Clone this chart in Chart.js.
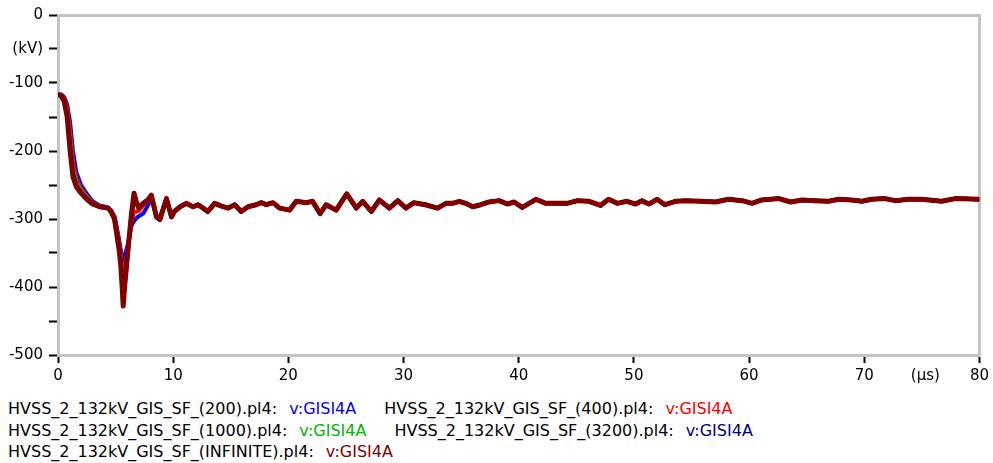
<!DOCTYPE html>
<html><head><meta charset="utf-8">
<script src="https://cdn.jsdelivr.net/npm/chart.js@4.4.0/dist/chart.umd.min.js"></script>
<style>
body{margin:0;background:#fff;width:993px;height:463px;overflow:hidden;position:relative;font-family:"DejaVu Sans",sans-serif;}
#wrap{position:absolute;left:0;top:0;width:993px;height:390px;}
#legend{position:absolute;left:8px;top:398px;width:985px;display:flex;flex-wrap:wrap;column-gap:28px;font-size:16px;line-height:21.5px;color:#000;}
.unit{margin-left:12px}
</style></head><body>
<div id="wrap"><canvas id="c" width="993" height="390"></canvas></div>
<div id="legend"></div>
<script>
// ---- data (time in µs, voltage in kV) ----
const timeEarlyUs = [0, 0.3, 0.55, 0.8, 1.05, 1.3, 1.6, 2.0, 2.5, 3.0, 3.6, 4.35, 4.6, 4.9, 5.1, 5.3, 5.45, 5.57, 5.66, 5.78, 5.9, 6.1, 6.38, 6.6, 6.8, 7.0, 7.4, 7.8, 8.1, 8.55, 8.84, 9.42, 9.85, 10.1, 10.6];
const kv200Early      = [-117,-117,-121,-132,-158,-200,-232,-250,-263,-274,-280,-283,-287,-296,-312,-330,-345,-356,-360,-355,-348,-335,-310,-303,-299,-296,-292,-280,-270,-295,-299,-271,-296,-289,-282];
const kv400Early      = [-117,-118,-123,-137,-170,-214,-241,-255,-266,-276,-281,-284,-288,-297,-315,-334,-352,-370,-378,-372,-362,-338,-304,-290,-289,-288,-280,-273,-267,-296,-300,-270,-297,-289,-282];
const kv1000Early     = [-117,-118,-125,-142,-182,-226,-247,-258,-268,-277,-281,-284,-288,-298,-318,-338,-358,-380,-392,-385,-370,-340,-298,-272,-278,-284,-277,-272,-266,-297,-300,-270,-297,-289,-282];
const kv3200Early     = [-117,-119,-127,-147,-193,-234,-251,-261,-270,-278,-282,-284,-289,-299,-320,-342,-364,-394,-420,-400,-378,-342,-294,-264,-276,-283,-277,-272,-265,-297,-301,-270,-297,-289,-282];
const kvInfiniteEarly = [-117,-119,-128,-150,-199,-238,-253,-262,-271,-278,-282,-284,-289,-300,-322,-345,-368,-400,-428,-400,-378,-341,-292,-262,-275,-283,-277,-272,-265,-297,-301,-270,-297,-289,-282];

// common tail, all five runs coincide after ~11 µs
const timeTailUs = [11.15, 11.73, 12.16, 12.6, 13.0, 13.6, 14.2, 14.76, 15.34, 15.9, 16.5, 17.2, 17.65, 18.08, 18.66, 19.24, 20.1, 20.68, 21.55, 22.1, 22.76, 23.28, 24.15, 25.07, 25.9, 26.46, 27.2, 27.9, 28.77, 29.5, 30.2, 30.9, 31.9, 32.95, 33.7, 34.25, 34.84, 35.4, 36.0, 36.7, 37.4, 38.3, 39.0, 39.6, 40.3, 41.5, 42.35, 44.2, 45.1, 46.1, 47.1, 47.8, 48.55, 49.4, 50.15, 50.7, 51.3, 52.0, 52.7, 53.6, 54.5, 55.9, 57.1, 58.2, 59.4, 60.25, 61.1, 62.6, 63.6, 64.6, 65.7, 66.9, 67.8, 68.9, 69.8, 70.65, 71.8, 72.7, 73.8, 75.0, 76.7, 77.9, 79.9, 80];
const kvTail = [-277, -282, -279, -284, -289, -277, -281, -284, -279, -289, -282, -279, -276, -279, -276, -284, -287, -274, -276, -274, -292, -279, -287, -263, -284, -274, -289, -272, -284, -273, -284, -276, -279, -284, -277, -277, -274, -277, -282, -279, -275, -273, -278, -275, -283, -271, -277, -277, -273, -274, -280, -271, -277, -274, -278, -273, -278, -271, -279, -274, -273, -274, -275, -271, -273, -277, -272, -270, -275, -272, -273, -274, -271, -272, -274, -271, -270, -273, -271, -271, -274, -270, -271, -271];

const runLabels = ["HVSS_2_132kV_GIS_SF_(200).pl4:", "HVSS_2_132kV_GIS_SF_(400).pl4:", "HVSS_2_132kV_GIS_SF_(1000).pl4:", "HVSS_2_132kV_GIS_SF_(3200).pl4:", "HVSS_2_132kV_GIS_SF_(INFINITE).pl4:"];
const signalName = "v:GISI4A";
const runColors = ["#0000ff", "#ff0000", "#00b400", "#000080", "#800000"];
const earlySeries = [kv200Early, kv400Early, kv1000Early, kv3200Early, kvInfiniteEarly];

const xTickStep = 10, yTickStep = 50;
const xUnitLabel = "(µs)", yUnitLabel = "(kV)";
const xUnitAt = 75.3;

function pts(early) {
  const t = timeEarlyUs.concat(timeTailUs);
  const v = early.concat(kvTail);
  return t.map((x, i) => ({x, y: v[i]}));
}

const datasets = earlySeries.map((s, i) => ({
  label: runLabels[i],
  data: pts(s),
  borderColor: runColors[i],
  backgroundColor: runColors[i],
  borderWidth: i === 4 ? 5 : 4,
  pointRadius: 0,
  tension: 0,
  borderJoinStyle: 'round',
  order: earlySeries.length - 1 - i,
  xAxisID: 'x', yAxisID: 'y'
}));

const tickFont = {family: "DejaVu Sans", size: 15};
const gray = '#c4c4c4';

new Chart(document.getElementById('c'), {
  type: 'line',
  data: {datasets},
  options: {
    responsive: false,
    animation: false,
    events: [],
    layout: {padding: 0},
    plugins: {legend: {display: false}, tooltip: {enabled: false}},
    scales: {
      x: {
        type: 'linear', position: 'bottom', min: 0, max: 80,
        afterBuildTicks: (sc) => {
          const t = [];
          for (let v = 0; v <= 80; v += xTickStep) t.push({value: v});
          t.push({value: xUnitAt});
          t.sort((a, b) => a.value - b.value);
          sc.ticks = t;
        },
        afterFit: (sc) => { sc.height = 35; },
        ticks: {
          autoSkip: false, maxRotation: 0, color: '#000', font: tickFont, padding: 4,
          callback: (v) => v === xUnitAt ? xUnitLabel : String(v)
        },
        grid: {
          drawOnChartArea: false, drawTicks: true, tickLength: 8, tickWidth: 2,
          tickColor: (ctx) => (ctx.tick && ctx.tick.value === xUnitAt) ? 'rgba(0,0,0,0)' : '#000'
        },
        border: {display: true, color: gray, width: 3}
      },
      y: {
        type: 'linear', position: 'left', min: -500, max: 0,
        afterFit: (sc) => { sc.width = 58; },
        ticks: {
          stepSize: yTickStep, autoSkip: false, color: '#000', font: tickFont, padding: 6,
          callback: (v) => v === -50 ? yUnitLabel : (v % 100 === 0 ? String(v) : '')
        },
        grid: {drawOnChartArea: false, drawTicks: true, tickLength: 9, tickWidth: 2, tickColor: '#000'},
        border: {display: true, color: gray, width: 3}
      },
      xTop: {
        type: 'linear', position: 'top', min: 0, max: 80,
        afterFit: (sc) => { sc.height = 15; },
        ticks: {display: false},
        grid: {drawOnChartArea: false, drawTicks: false},
        border: {display: true, color: gray, width: 3}
      },
      yRight: {
        type: 'linear', position: 'right', min: -500, max: 0,
        afterFit: (sc) => { sc.width = 12; },
        ticks: {display: false},
        grid: {drawOnChartArea: false, drawTicks: false},
        border: {display: true, color: gray, width: 3}
      }
    }
  }
});

// legend (real text) built from the dataset labels
const lg = document.getElementById('legend');
runLabels.forEach((lab, i) => {
  const item = document.createElement('span');
  const f = document.createElement('span'); f.textContent = lab;
  const u = document.createElement('span'); u.className = 'unit'; u.textContent = signalName; u.style.color = runColors[i];
  item.appendChild(f); item.appendChild(u);
  lg.appendChild(item);
});
</script>
</body></html>
